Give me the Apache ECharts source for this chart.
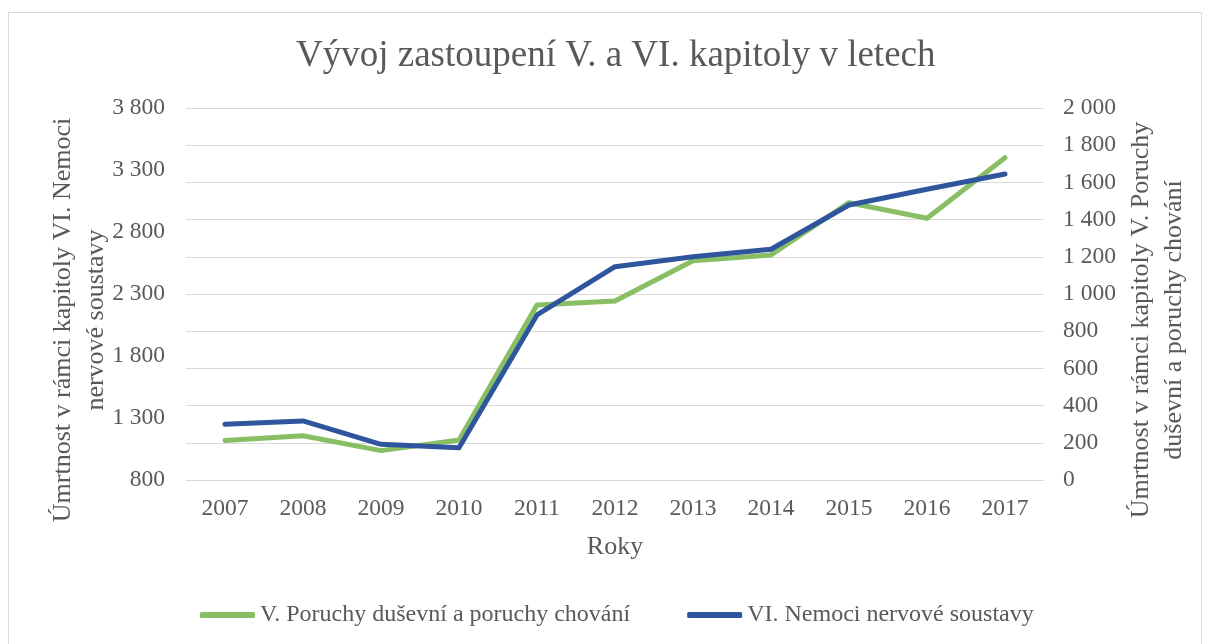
<!DOCTYPE html>
<html>
<head>
<meta charset="UTF-8">
<title>Vývoj zastoupení V. a VI. kapitoly v letech</title>
<script src="https://cdn.jsdelivr.net/npm/echarts@6/dist/echarts.min.js"></script>
<style>
  * { margin: 0; padding: 0; }
  body { background: #fff; }
  #frame {
    position: absolute; left: 8px; top: 12px;
    width: 1192px; height: 640px;
    border: 1px solid #d9d9d9;
  }
  #main { position: absolute; left: 0; top: 0; width: 1209px; height: 644px; }
</style>
</head>
<body>
<div id="frame"></div>
<div id="main"></div>
<script>
  var years = ['2007', '2008', '2009', '2010', '2011', '2012', '2013', '2014', '2015', '2016', '2017'];
  // V. Poruchy duševní a poruchy chování (right axis)
  var mental = [213, 238, 158, 215, 941, 962, 1179, 1210, 1491, 1407, 1733];
  // VI. Nemoci nervové soustavy (left axis)
  var nervous = [1249, 1276, 1088, 1060, 2131, 2520, 2601, 2661, 3018, 3145, 3268];

  var txt = '#595959';
  var font = "'Liberation Serif', 'Times New Roman', serif";

  function fmt(v) {
    return String(v).replace(/\B(?=(\d{3})+(?!\d))/g, ' ');
  }

  var myChart = echarts.init(document.getElementById('main'));
  var option = {
    animation: false,
    textStyle: { fontFamily: font, color: txt },
    title: {
      text: 'Vývoj zastoupení V. a VI. kapitoly v letech',
      left: 291,
      top: 33,
      textStyle: { fontFamily: font, fontSize: 37, fontWeight: 'normal', color: txt }
    },
    grid: { left: 186, right: 165, top: 108, bottom: 164 },
    legend: {
      bottom: 12,
      left: 195,
      icon: 'roundRect',
      itemWidth: 55,
      itemHeight: 6,
      itemGap: 57,
      textStyle: { fontFamily: font, fontSize: 24, color: txt },
      data: ['V. Poruchy duševní a poruchy chování', 'VI. Nemoci nervové soustavy']
    },
    xAxis: {
      type: 'category',
      data: years,
      name: 'Roky',
      nameLocation: 'middle',
      nameGap: 54,
      nameTextStyle: { fontFamily: font, fontSize: 26, color: txt },
      axisLine: { show: false },
      axisTick: { show: false },
      axisLabel: { margin: 17, fontFamily: font, fontSize: 23.5, color: txt }
    },
    yAxis: [{
      type: 'value',
      position: 'left',
      min: 800,
      max: 3800,
      interval: 500,
      name: 'Úmrtnost v rámci kapitoly VI. Nemoci\nnervové soustavy',
      nameLocation: 'middle',
      nameRotate: 90,
      nameGap: 73,
      nameMoveOverlap: false,
      nameTextStyle: { fontFamily: font, fontSize: 26, color: txt, lineHeight: 33, align: 'center', padding: [0, 52, 0, 0] },
      axisLine: { show: false },
      axisTick: { show: false },
      splitLine: { show: false },
      axisLabel: { margin: 21, fontFamily: font, fontSize: 23.5, color: txt, formatter: fmt }
    }, {
      type: 'value',
      position: 'right',
      min: 0,
      max: 2000,
      interval: 200,
      name: 'Úmrtnost v rámci kapitoly V. Poruchy\nduševní a poruchy chování',
      nameLocation: 'middle',
      nameRotate: 90,
      nameGap: 81,
      nameMoveOverlap: false,
      nameTextStyle: { fontFamily: font, fontSize: 26, color: txt, lineHeight: 33, align: 'center', padding: [0, 52, 0, 0] },
      axisLine: { show: false },
      axisTick: { show: false },
      splitLine: { show: true, lineStyle: { color: '#d9d9d9', width: 1 } },
      axisLabel: { margin: 19, fontFamily: font, fontSize: 23.5, color: txt, formatter: fmt }
    }],
    series: [{
      name: 'V. Poruchy duševní a poruchy chování',
      type: 'line',
      yAxisIndex: 1,
      data: mental,
      symbol: 'none',
      itemStyle: { color: '#88bf65' },
      lineStyle: { color: '#88bf65', width: 5, cap: 'round', join: 'round' }
    }, {
      name: 'VI. Nemoci nervové soustavy',
      type: 'line',
      yAxisIndex: 0,
      data: nervous,
      symbol: 'none',
      itemStyle: { color: '#2f569c' },
      lineStyle: { color: '#2f569c', width: 5, cap: 'round', join: 'round' }
    }]
  };
  myChart.setOption(option);
</script>
</body>
</html>
